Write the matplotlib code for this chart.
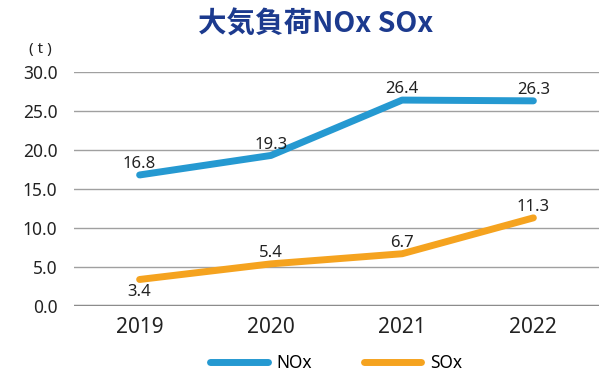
import matplotlib.pyplot as plt
from matplotlib.lines import Line2D

plt.rcParams['font.family'] = ['Noto Sans', 'Noto Sans CJK JP']

years = ['2019', '2020', '2021', '2022']
nox = [16.8, 19.3, 26.4, 26.3]
sox = [3.4, 5.4, 6.7, 11.3]
yticks = [0, 5, 10, 15, 20, 25, 30]

blue = '#2599d1'
orange = '#f5a31f'

fig = plt.figure(figsize=(6.11, 3.79), dpi=100)
ax = fig.add_axes([74 / 611, 1 - 306 / 379, 525 / 611, 234 / 379])

x = range(len(years))
ax.plot(x, nox, color=blue, lw=5, solid_capstyle='round', solid_joinstyle='round')
ax.plot(x, sox, color=orange, lw=5, solid_capstyle='round', solid_joinstyle='round')

# value labels: above the line, except the first SOx point which sits below
for i, v in enumerate(nox):
    ax.annotate(f'{v:.1f}', (i, v), xytext=(0, 2), textcoords='offset points',
                ha='center', va='bottom', fontsize=12, color='#222222')
for i, v in enumerate(sox):
    off, va = ((0, -3), 'top') if i == 0 else ((0, 2), 'bottom')
    ax.annotate(f'{v:.1f}', (i, v), xytext=off, textcoords='offset points',
                ha='center', va=va, fontsize=12, color='#222222')

ax.set_xlim(-0.5, 3.5)
ax.set_ylim(0, 30)
ax.set_yticks(yticks)
ax.set_yticklabels([f'{t:.1f}' for t in yticks], fontsize=12.5, color='#222222')
ax.set_xticks(list(x))
ax.set_xticklabels(years, fontsize=15, color='#222222')
ax.tick_params(length=0)
ax.tick_params(axis='y', pad=12)
ax.tick_params(axis='x', pad=8)

for t in yticks[1:]:
    ax.axhline(t, color='#a0a0a0', lw=1, zorder=0)
ax.axhline(0, color='#8c8c8c', lw=2.5, zorder=0)
for s in ax.spines.values():
    s.set_visible(False)

fig.text(40 / 611, 1 - 49 / 379, '( t )', fontsize=11, ha='center', va='center', color='#222222')
fig.suptitle('大気負荷NOx SOx', x=316 / 611, y=1 - 25 / 379, va='center',
             fontsize=20.5, fontweight='bold', color='#1c3a8e',
             family=['Noto Sans CJK JP'])

handles = [Line2D([], [], color=blue, lw=5, solid_capstyle='round'),
           Line2D([], [], color=orange, lw=5, solid_capstyle='round')]
fig.legend(handles, ['NOx', 'SOx'], loc='center', bbox_to_anchor=(336 / 611, 1 - 363 / 379),
           ncol=2, frameon=False, fontsize=12.5, handlelength=3.3, columnspacing=3.0,
           handletextpad=0.5)

fig.savefig('out.png', dpi=100)
